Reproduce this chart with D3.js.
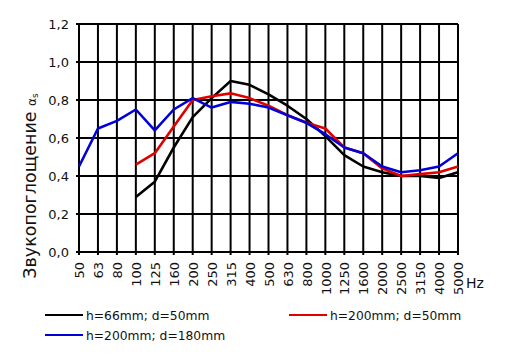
<!DOCTYPE html>
<html><head><meta charset="utf-8">
<script src="https://cdn.jsdelivr.net/npm/d3@7"></script>
<style>body{margin:0;background:#fff}text{font-family:"DejaVu Sans",sans-serif;fill:#111}</style>
</head><body><svg id="c" width="509" height="363"></svg>
<script>
const freqs = ["50","63","80","100","125","160","200","250","315","400","500","630","800","1000","1250","1600","2000","2500","3150","4000","5000"];
const yTicks = [0,0.2,0.4,0.6,0.8,1.0,1.2];
const seriesNames = ["h=66mm; d=50mm","h=200mm; d=50mm","h=200mm; d=180mm"];
const seriesColors = ["#000000","#e00000","#0000d8"];
const black = [null,null,null,0.29,0.37,0.55,0.71,0.81,0.90,0.88,0.83,0.77,0.70,0.61,0.51,0.45,0.42,0.40,0.40,0.39,0.42];
const red   = [null,null,null,0.46,0.52,0.66,0.80,0.82,0.835,0.81,0.77,0.72,0.68,0.65,0.55,0.52,0.44,0.40,0.41,0.42,0.45];
const blue  = [0.45,0.65,0.69,0.75,0.64,0.75,0.81,0.76,0.79,0.78,0.76,0.72,0.68,0.62,0.55,0.52,0.45,0.42,0.43,0.45,0.52];
const series = [black, red, blue];

const svg = d3.select("#c");
const L=79,R=458,T=24,B=252;
const x = d3.scalePoint().domain(freqs).range([L,R]);
const y = d3.scaleLinear().domain([0,1.2]).range([B,T]);

// grid
const g = svg.append("g").attr("stroke","#000").attr("stroke-width",2);
g.selectAll(".v").data(freqs).join("line").attr("x1",d=>x(d)).attr("x2",d=>x(d)).attr("y1",T).attr("y2",B+3);
g.selectAll(".h").data(yTicks).join("line").attr("y1",d=>y(d)).attr("y2",d=>y(d)).attr("x1",L-3).attr("x2",R);

// axes labels
const fmt = d => d3.format(".1f")(d).replace(".",",");
const ya = svg.append("g").attr("transform",`translate(${L},0)`)
  .call(d3.axisLeft(y).tickValues(yTicks).tickFormat(fmt).tickSize(0).tickPadding(10));
ya.select(".domain").remove();
ya.selectAll("text").attr("font-size",13).attr("font-family","DejaVu Sans").style("fill","#111");

const xa = svg.append("g").attr("transform",`translate(0,${B})`)
  .call(d3.axisBottom(x).tickSize(0));
xa.select(".domain").remove();
xa.selectAll("text").attr("font-size",13).attr("font-family","DejaVu Sans").style("fill","#111")
  .attr("transform","rotate(-90)").attr("text-anchor","end").attr("x",-10).attr("y",0).attr("dy","0.36em");

svg.append("text").attr("x",466).attr("y",288).attr("font-size",14).text("Hz");

// y title
const yt = svg.append("text").attr("transform","translate(36,186) rotate(-90)").attr("text-anchor","middle").attr("font-size",17.5);
yt.append("tspan").text("Звукопоглощение ");
yt.append("tspan").attr("font-size",12).text("α");
yt.append("tspan").attr("font-size",9).attr("dy",2).text("s");

// lines
const line = d3.line().defined(d=>d.v!=null).x(d=>x(d.f)).y(d=>y(d.v));
series.forEach((s,i)=>{
  svg.append("path").datum(freqs.map((f,j)=>({f,v:s[j]})))
    .attr("d",line).attr("fill","none").attr("stroke",seriesColors[i]).attr("stroke-width",2.6).attr("stroke-linejoin","round");
});

// legend
const leg = [{x:45,y:315,i:0},{x:289,y:315,i:1},{x:45,y:335,i:2}];
leg.forEach(l=>{
  svg.append("line").attr("x1",l.x).attr("x2",l.x+38).attr("y1",l.y).attr("y2",l.y).attr("stroke",seriesColors[l.i]).attr("stroke-width",2.2);
  svg.append("text").attr("x",l.x+41).attr("y",l.y+4.5).attr("font-size",12.3).text(seriesNames[l.i]);
});
</script></body></html>
